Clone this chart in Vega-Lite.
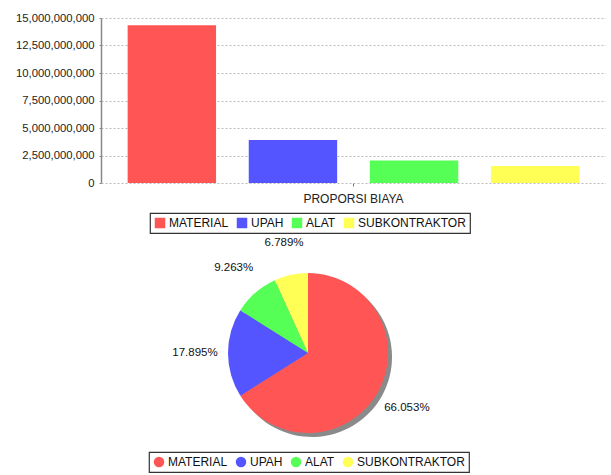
{
  "$schema": "https://vega.github.io/schema/vega-lite/v6.json",
  "padding": {"left": 15, "top": 12, "right": 0, "bottom": 0},
  "background": "white",
  "config": {
    "font": "Liberation Sans",
    "view": {"stroke": null},
    "legend": {
      "orient": "none",
      "direction": "horizontal",
      "title": null,
      "strokeColor": "#333333",
      "strokeWidth": 1.2,
      "padding": 4,
      "labelFontSize": 12,
      "labelColor": "#111111",
      "labelOffset": 3,
      "columnPadding": 7,
      "symbolSize": 110,
      "symbolStrokeWidth": 0
    }
  },
  "datasets": {
    "biaya": [
      {"grup": "PROPORSI BIAYA", "kategori": "MATERIAL", "biaya": 14350000000},
      {"grup": "PROPORSI BIAYA", "kategori": "UPAH", "biaya": 3900000000},
      {"grup": "PROPORSI BIAYA", "kategori": "ALAT", "biaya": 2040000000},
      {"grup": "PROPORSI BIAYA", "kategori": "SUBKONTRAKTOR", "biaya": 1550000000}
    ],
    "proporsi": [
      {"urutan": 1, "kategori": "MATERIAL", "persen": 0.66053},
      {"urutan": 2, "kategori": "UPAH", "persen": 0.17895},
      {"urutan": 3, "kategori": "ALAT", "persen": 0.09263},
      {"urutan": 4, "kategori": "SUBKONTRAKTOR", "persen": 0.06789}
    ]
  },
  "resolve": {"legend": {"color": "independent"}},
  "spacing": 2,
  "vconcat": [
    {
      "width": 505,
      "height": 165,
      "data": {"name": "biaya"},
      "mark": {"type": "bar"},
      "encoding": {
        "x": {
          "field": "grup",
          "type": "nominal",
          "title": null,
          "scale": {"paddingInner": 0, "paddingOuter": 0},
          "axis": {
            "domain": false,
            "labelAngle": 0,
            "labelFontSize": 12,
            "labelColor": "#222222",
            "tickSize": 3,
            "tickColor": "#777777",
            "labelPadding": 7
          }
        },
        "xOffset": {
          "field": "kategori",
          "type": "nominal",
          "sort": ["MATERIAL", "UPAH", "ALAT", "SUBKONTRAKTOR"],
          "scale": {"paddingInner": 0.27, "paddingOuter": 0.22}
        },
        "y": {
          "field": "biaya",
          "type": "quantitative",
          "title": null,
          "scale": {"domain": [0, 15000000000], "nice": false},
          "axis": {
            "values": [0, 2500000000, 5000000000, 7500000000, 10000000000, 12500000000, 15000000000],
            "format": ",d",
            "labelFontSize": 11.3,
            "labelColor": "#222222",
            "domainColor": "#888888",
            "domainWidth": 1.5,
            "tickColor": "#888888",
            "tickSize": 2,
            "labelPadding": 5,
            "gridColor": "#bbbbbb",
            "gridDash": [2, 2]
          }
        },
        "color": {
          "field": "kategori",
          "type": "nominal",
          "sort": ["MATERIAL", "UPAH", "ALAT", "SUBKONTRAKTOR"],
          "scale": {
            "domain": ["MATERIAL", "UPAH", "ALAT", "SUBKONTRAKTOR"],
            "range": ["#FF5555", "#5555FF", "#55FF55", "#FFFF55"]
          },
          "legend": {"symbolType": "square", "legendX": 49, "legendY": 195}
        }
      }
    },
    {
      "width": 414,
      "height": 232,
      "data": {"name": "proporsi"},
      "layer": [
        {
          "mark": {"type": "arc", "outerRadius": 80, "xOffset": 4, "yOffset": 4, "color": "#8a8a8a"},
          "encoding": {
            "theta": {"field": "persen", "type": "quantitative", "stack": true},
            "order": {"field": "urutan"}
          }
        },
        {
          "mark": {"type": "arc", "outerRadius": 80},
          "encoding": {
            "theta": {"field": "persen", "type": "quantitative", "stack": true},
            "order": {"field": "urutan"},
            "color": {
              "field": "kategori",
              "type": "nominal",
              "sort": ["MATERIAL", "UPAH", "ALAT", "SUBKONTRAKTOR"],
              "scale": {
                "domain": ["MATERIAL", "UPAH", "ALAT", "SUBKONTRAKTOR"],
                "range": ["#FF5555", "#5555FF", "#55FF55", "#FFFF55"]
              },
              "legend": {"symbolType": "circle", "legendX": 48, "legendY": 215}
            }
          }
        },
        {
          "mark": {"type": "text", "radius": 113, "fontSize": 11.5, "color": "#111111"},
          "encoding": {
            "theta": {"field": "persen", "type": "quantitative", "stack": true},
            "order": {"field": "urutan"},
            "detail": {"field": "kategori"},
            "text": {"field": "persen", "type": "quantitative", "format": ".3%"}
          }
        }
      ]
    }
  ]
}
